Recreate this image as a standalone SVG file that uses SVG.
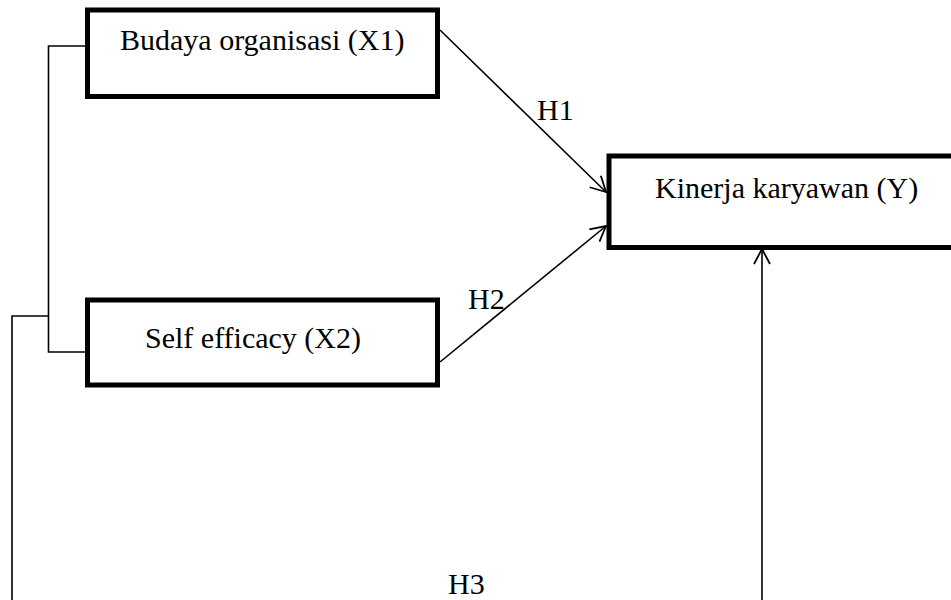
<svg xmlns="http://www.w3.org/2000/svg" width="951" height="600" viewBox="0 0 951 600">
<style>
.box{fill:#fff;stroke:#000;stroke-width:5}
.lbl{font-family:"Liberation Serif","Times New Roman",serif;font-size:30px;fill:#000}
.conn{fill:none;stroke:#000;stroke-width:1.6}
</style>
<defs>
<marker id="arr" markerUnits="userSpaceOnUse" markerWidth="20" markerHeight="20" refX="16" refY="9" orient="auto" viewBox="0 0 20 18">
<path d="M1,1 L16,9 L1,17" fill="none" stroke="#000" stroke-width="1.8"/>
</marker>
</defs>
<rect width="951" height="600" fill="#fff"/>
<g id="connectors">
<path class="conn" d="M87,46 H48.5 V352 H87"/>
<path class="conn" d="M48.5,316 H12 V600"/>
<line class="conn" x1="440" y1="30" x2="606" y2="192" marker-end="url(#arr)"/>
<line class="conn" x1="440" y1="362" x2="606" y2="226" marker-end="url(#arr)"/>
<line class="conn" x1="762" y1="600" x2="762" y2="249" marker-end="url(#arr)"/>
<text class="lbl" x="537" y="120">H1</text>
<text class="lbl" x="468" y="309">H2</text>
<text class="lbl" x="448" y="594">H3</text>
</g>
<g id="x1">
<rect class="box" x="87.5" y="10" width="350" height="86.5"/>
<text class="lbl" x="120" y="50">Budaya organisasi (X1)</text>
</g>
<g id="x2">
<rect class="box" x="87.5" y="300" width="350" height="85"/>
<text class="lbl" x="145" y="348">Self efficacy (X2)</text>
</g>
<g id="y">
<rect class="box" x="609" y="156" width="360" height="91.5"/>
<text class="lbl" x="655" y="198">Kinerja karyawan (Y)</text>
</g>
</svg>
